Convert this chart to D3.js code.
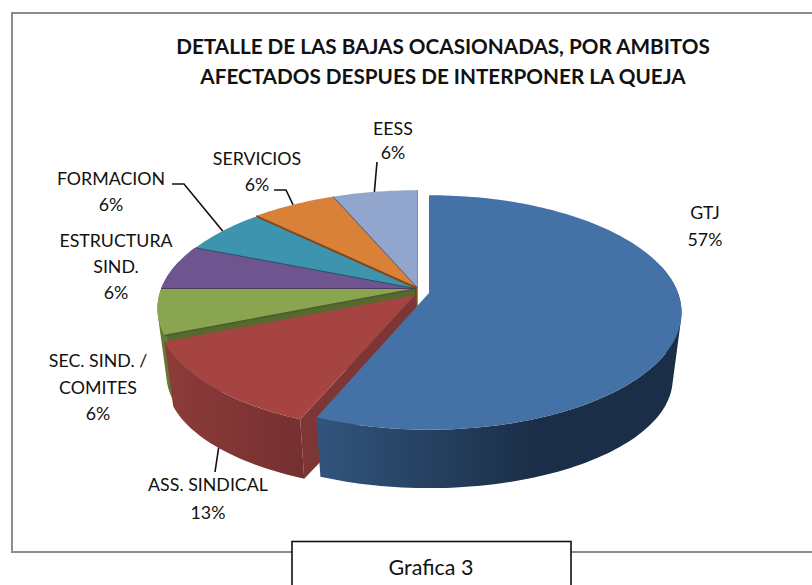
<!DOCTYPE html>
<html>
<head>
<meta charset="utf-8">
<script src="https://cdn.jsdelivr.net/npm/d3@7"></script>
<style>
  html, body { margin: 0; padding: 0; background: #fff; }
  svg { display: block; }
  text { font-family: Lato, "Open Sans", sans-serif; fill: #111; }
</style>
</head>
<body>
<svg id="chart" width="812" height="585"></svg>
<script>
const categories = ["GTJ", "ASS. SINDICAL", "SEC. SIND. / COMITES", "ESTRUCTURA SIND.", "FORMACION", "SERVICIOS", "EESS"];
// slice sizes, the printed percentages are kept as printed
const values = [9, 2, 1, 1, 1, 1, 1];
const percentLabels = ["57%", "13%", "6%", "6%", "6%", "6%", "6%"];
const titleLines = ["DETALLE DE LAS BAJAS OCASIONADAS, POR AMBITOS", "AFECTADOS DESPUES DE INTERPONER LA QUEJA"];
const captionText = "Grafica 3";

// colours per slice, same order as categories
const topColors = ["#4471a6", "#a64442", "#8aa54f", "#6f5590", "#3d94ae", "#d98039", "#92a5cd"];
const wallFrom = ["#31547c", "#8c3b39", "#617a35", "#4e3c66", "#2b6a7c", "#9c5c28", "#67758f"];
const wallTo = ["#1b2e47", "#763030", "#617a35", "#4e3c66", "#2b6a7c", "#9c5c28", "#67758f"];

// pie geometry
const center = { x: 415, y: 288 };
const radius = 254, planeRy = 114, persp = 0.166;
const depth = 68, bottomScaleX = 0.965, bottomScaleY = 0.93;
const explode = [[14, 5, 249 / 254], [0, 7, 1], [0, 1, 1], [0, 1, 1], [1, 1, 1], [2, 0, 1], [2, 0, 1]];

// label placement: line texts, centre x, baselines, optional leader elbow
const labelLayout = [
  { lines: ["GTJ"], x: 705, y: 219, pctY: 246 },
  { lines: ["ASS. SINDICAL"], x: 208, y: 491, pctY: 519, leader: [[215, 472]], bottom: true },
  { lines: ["SEC. SIND. /", "COMITES"], x: 98, y: 367, pctY: 420 },
  { lines: ["ESTRUCTURA", "SIND."], x: 116, y: 247, pctY: 299 },
  { lines: ["FORMACION"], x: 111, y: 185, pctY: 211, leader: [[184, 184], [172, 184]] },
  { lines: ["SERVICIOS"], x: 257, y: 165, pctY: 191, leader: [[286, 190], [274, 190]] },
  { lines: ["EESS"], x: 393, y: 135, pctY: 159, leader: [[377, 162]] }
];

const svg = d3.select("#chart");
const defs = svg.append("defs");

// frame and caption box
svg.append("path")
  .attr("d", "M812,13H12V552H812")
  .attr("fill", "none").attr("stroke", "#8c8c8c").attr("stroke-width", 2);

svg.selectAll("text.title")
  .data(titleLines)
  .enter().append("text")
  .attr("class", "title")
  .attr("x", 443)
  .attr("y", (d, i) => 54 + i * 30)
  .attr("text-anchor", "middle")
  .attr("font-size", 20.7)
  .attr("font-weight", 700)
  .text(d => d);

const arcs = d3.pie().sort(null).value(d => d)(values);

// plane of the pie to screen, with perspective (front bigger than back)
function project(angle, r, i, lower) {
  const u = Math.sin(angle) * r, v = -Math.cos(angle) * r;
  const w = 1 - persp * v;
  const e = explode[i];
  const rx = radius * e[2];
  const dx = rx * u / w;
  const dy = planeRy * v / w;
  const cx = center.x + e[0], cy = center.y + e[1];
  return lower ? [cx + dx * bottomScaleX, cy + depth + dy * bottomScaleY] : [cx + dx, cy + dy];
}

function arcAngles(d) {
  const n = Math.max(2, Math.ceil((d.endAngle - d.startAngle) * 40));
  return d3.range(n + 1).map(k => d.startAngle + (d.endAngle - d.startAngle) * k / n);
}

const line = d3.line();
const closed = pts => line(pts) + "Z";

const slices = svg.append("g").attr("class", "pie");

// paint back to front: EESS first, GTJ last
d3.range(arcs.length - 1, -1, -1).forEach(i => {
  const d = arcs[i];
  const angles = arcAngles(d);
  const top = angles.map(a => project(a, 1, i, false));
  const bottom = angles.map(a => project(a, 1, i, true));
  const g = slices.append("g");

  const gradId = "wall" + i;
  const grad = defs.append("linearGradient")
    .attr("id", gradId)
    .attr("gradientUnits", "userSpaceOnUse")
    .attr("x1", i === 0 ? 320 : 170).attr("x2", i === 0 ? 535 : 300)
    .attr("y1", 0).attr("y2", 0);
  grad.append("stop").attr("offset", 0).attr("stop-color", wallFrom[i]);
  grad.append("stop").attr("offset", 1).attr("stop-color", wallTo[i]);

  // flat cut faces, only the ones turned towards the viewer
  const apexTop = project(0, 0, i, false), apexBottom = project(0, 0, i, true);
  const faceColor = i === 1 ? "#7e3535" : d3.color(wallFrom[i]).darker(0.4);
  if (Math.sin(d.startAngle) < -1e-6) {
    g.append("path")
      .attr("d", closed([apexTop, top[0], bottom[0], apexBottom]))
      .attr("fill", faceColor);
  }
  if (i === arcs.length - 1) {
    g.append("path")
      .attr("d", closed([apexTop, top[top.length - 1], bottom[bottom.length - 1], apexBottom]))
      .attr("fill", faceColor)
      .attr("stroke", faceColor);
  }

  // outer wall: front part of the rim only, all strips wound the same way
  // so they fill as one shape with no seams
  const wallPath = d3.pairs(d3.range(top.length))
    .filter(p => Math.cos((angles[p[0]] + angles[p[1]]) / 2) < 0.25)
    .map(p => {
      const quad = [top[p[0]], top[p[1]], bottom[p[1]], bottom[p[0]]];
      return closed(d3.polygonArea(quad) < 0 ? quad.reverse() : quad);
    })
    .join("");
  if (wallPath) {
    g.append("path")
      .attr("d", wallPath)
      .attr("fill", `url(#${gradId})`);
  }

  // top face
  g.append("path")
    .attr("d", closed([apexTop].concat(top)))
    .attr("fill", topColors[i]);

  // dark seam on the start edge of the small slices
  if (i >= 2) {
    g.append("path")
      .attr("d", line([apexTop, top[0]]))
      .attr("fill", "none")
      .attr("stroke", d3.color(topColors[i]).darker(1.6))
      .attr("stroke-width", 1.6);
  }
});

// labels and leaders
labelLayout.forEach((l, i) => {
  const d = arcs[i];
  const rows = l.lines.concat([percentLabels[i]]);
  const step = rows.length > 1 ? (l.pctY - l.y) / (rows.length - 1) : 0;
  svg.selectAll(null)
    .data(rows)
    .enter().append("text")
    .attr("x", l.x)
    .attr("y", (t, k) => l.y + k * step)
    .attr("text-anchor", "middle")
    .attr("font-size", 17.8)
    .text(t => t);
  if (l.leader) {
    const start = project((d.startAngle + d.endAngle) / 2, 1, i, !!l.bottom);
    svg.append("path")
      .attr("d", line([start].concat(l.leader)))
      .attr("fill", "none")
      .attr("stroke", "#111")
      .attr("stroke-width", 1.6);
  }
});

// caption box runs off the bottom of the page
svg.append("rect")
  .attr("x", 292).attr("y", 541.5)
  .attr("width", 279).attr("height", 60)
  .attr("fill", "#fff").attr("stroke", "#111").attr("stroke-width", 1.6);
svg.append("text")
  .attr("x", 431).attr("y", 575)
  .attr("text-anchor", "middle")
  .attr("font-size", 21.5)
  .text(captionText);
</script>
</body>
</html>
